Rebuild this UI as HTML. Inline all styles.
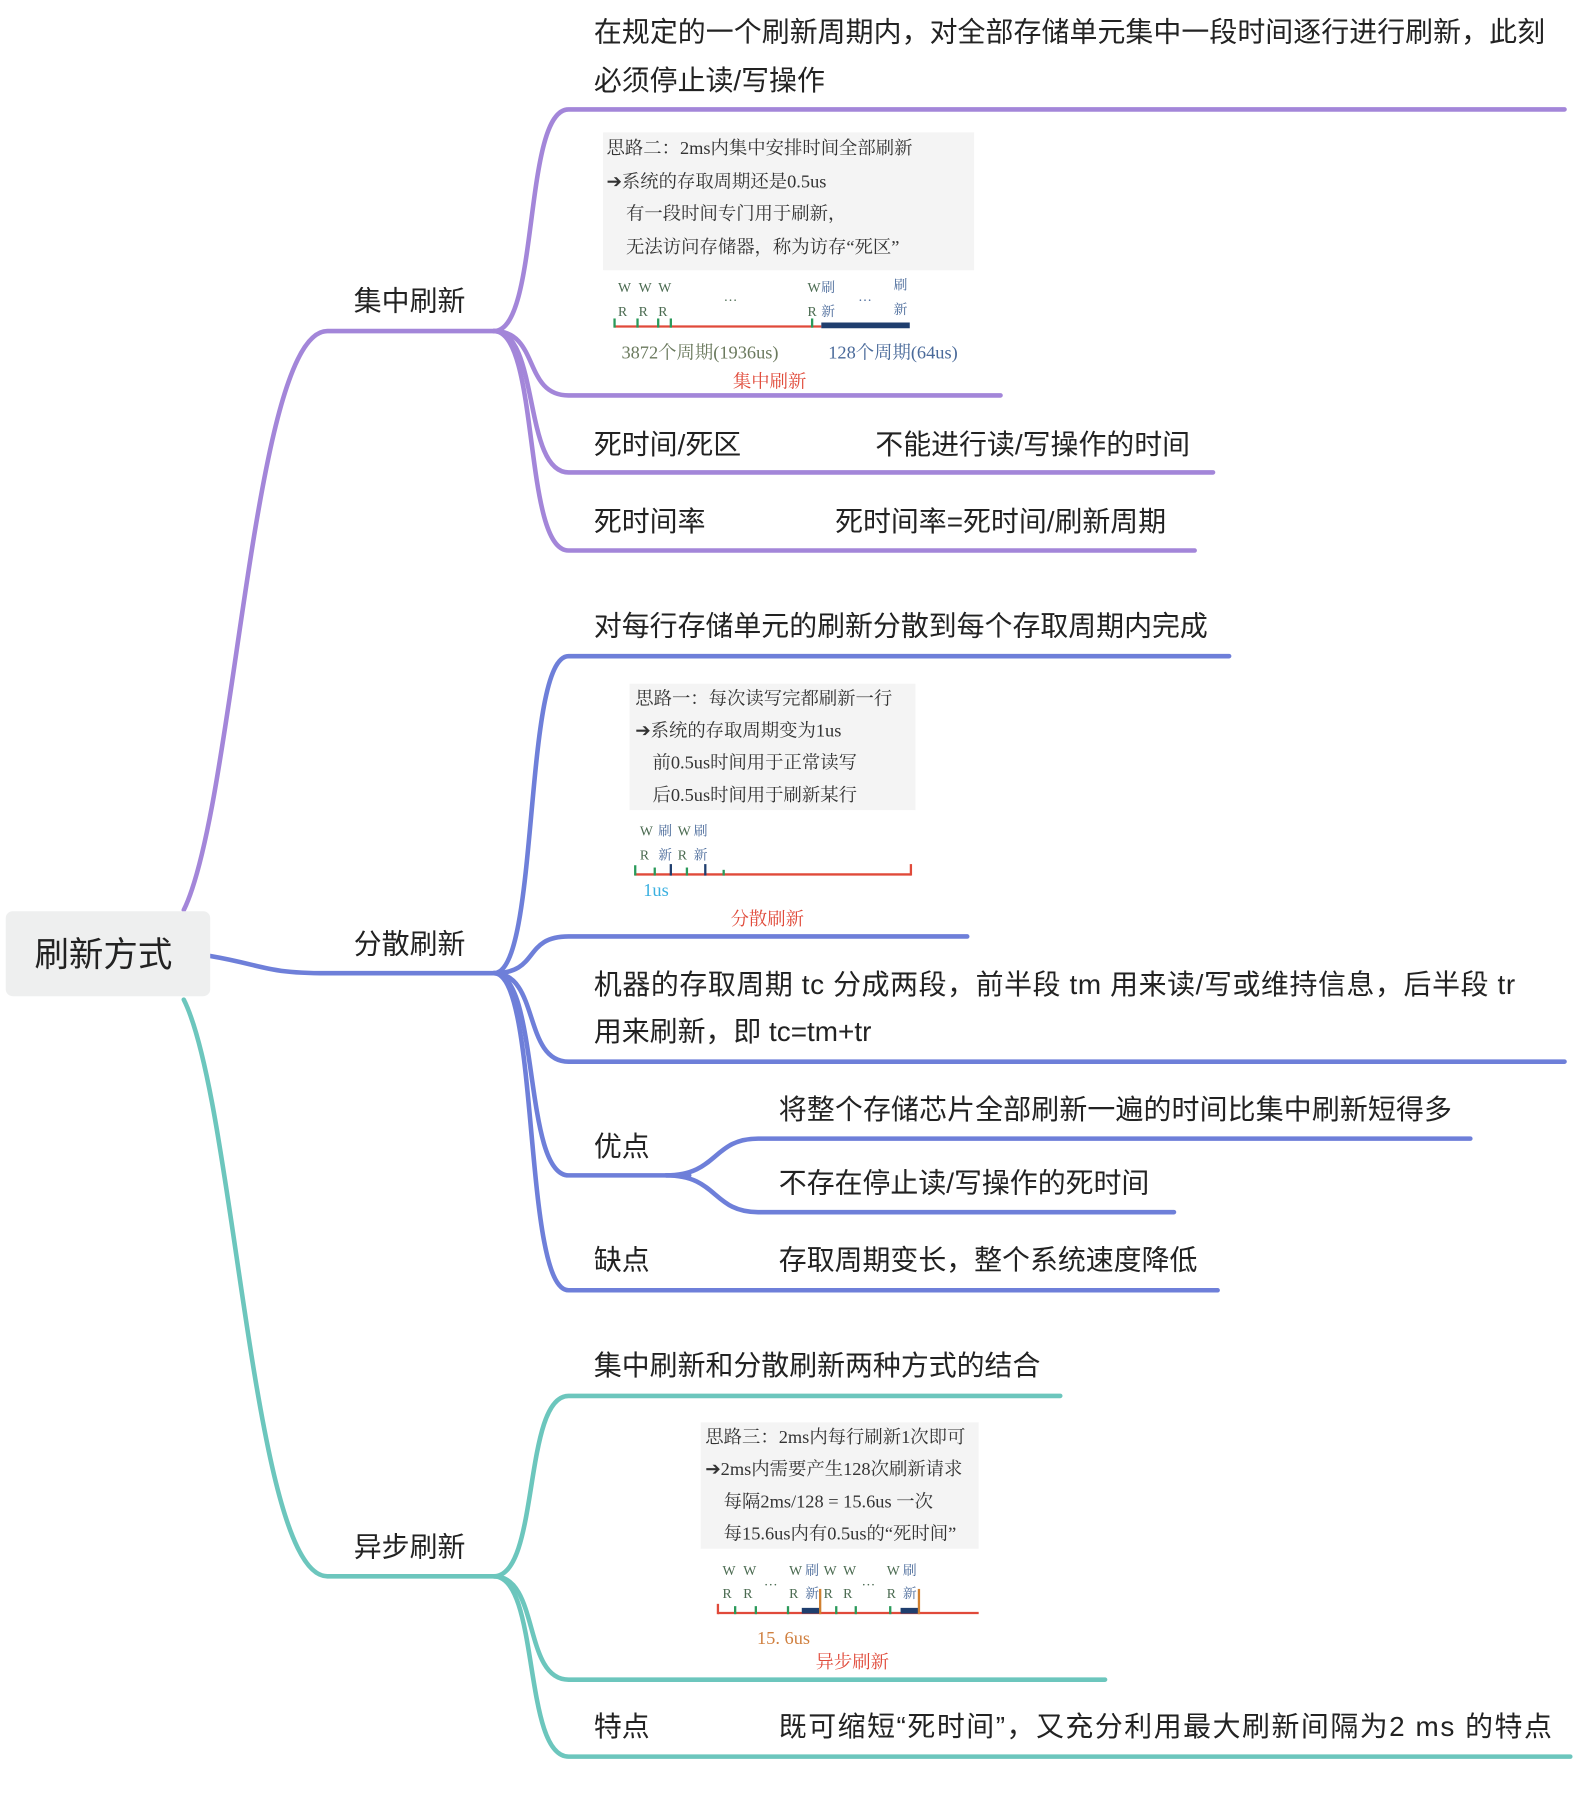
<!DOCTYPE html>
<html><head><meta charset="utf-8"><style>
html,body{margin:0;padding:0;background:#fff;}
svg{display:block;}
.t{font-family:"Liberation Sans","Noto Sans CJK SC",sans-serif;font-size:24.3px;fill:#222;}
.s{font-family:"Liberation Serif","Noto Serif CJK SC",serif;font-size:16px;fill:#333;}
.m{font-family:"Liberation Serif","Noto Serif CJK SC",serif;font-size:12px;}
</style></head><body>
<svg width="1576" height="1804" viewBox="0 0 1372 1570" xmlns="http://www.w3.org/2000/svg">
<g fill="none" stroke-width="4" stroke-linecap="round">
<g stroke="#a386d9">
<path d="M160,792 C205,700 220,288 285,288 L430,288"/>
<path d="M430,288 C470,288 455,95 495,95 L1362,95"/>
<path d="M430,288 C470,288 455,344 495,344 L871,344"/>
<path d="M430,288 C470,288 455,411 495,411 L1056,411"/>
<path d="M430,288 C470,288 455,479 495,479 L1040,479"/>
</g>
<g stroke="#6e7fd9">
<path d="M183,832 C230,840 230,847 285,847 L430,847"/>
<path d="M430,847 C470,847 455,571 495,571 L1070,571"/>
<path d="M430,847 C470,847 455,815 495,815 L842,815"/>
<path d="M430,847 C470,847 455,924 495,924 L1362,924"/>
<path d="M430,847 C470,847 455,1023 495,1023 L600,1023"/>
<path d="M430,847 C470,847 455,1123 495,1123 L1060,1123"/>
<path d="M580,1023 C625,1023 620,991 660,991 L1280,991"/>
<path d="M580,1023 C625,1023 620,1055 660,1055 L1022,1055"/>
</g>
<g stroke="#6cc6bd">
<path d="M160,870 C205,960 220,1372 285,1372 L430,1372"/>
<path d="M430,1372 C470,1372 455,1215 495,1215 L923,1215"/>
<path d="M430,1372 C470,1372 455,1462 495,1462 L962,1462"/>
<path d="M430,1372 C470,1372 455,1529 495,1529 L1367,1529"/>
</g>
</g>
<rect x="5" y="793" width="178" height="74" rx="6" fill="#eeefef"/>
<text x="30" y="841" class="t" style="font-size:30px">刷新方式</text>
<text x="308" y="270" class="t">集中刷新</text>
<text x="308" y="830" class="t">分散刷新</text>
<text x="308" y="1355" class="t">异步刷新</text>

<text x="517" y="36" class="t" textLength="828">在规定的一个刷新周期内，对全部存储单元集中一段时间逐行进行刷新，此刻</text>
<text x="517" y="78" class="t">必须停止读/写操作</text>
<text x="517" y="395" class="t">死时间/死区</text>
<text x="762" y="395" class="t">不能进行读/写操作的时间</text>
<text x="517" y="462" class="t">死时间率</text>
<text x="727" y="462" class="t">死时间率=死时间/刷新周期</text>

<text x="517" y="553" class="t">对每行存储单元的刷新分散到每个存取周期内完成</text>
<text x="517" y="865" class="t" textLength="802">机器的存取周期 tc 分成两段，前半段 tm 用来读/写或维持信息，后半段 tr</text>
<text x="517" y="906" class="t">用来刷新，即 tc=tm+tr</text>
<text x="517" y="1006" class="t">优点</text>
<text x="678" y="974" class="t" textLength="586">将整个存储芯片全部刷新一遍的时间比集中刷新短得多</text>
<text x="678" y="1038" class="t">不存在停止读/写操作的死时间</text>
<text x="517" y="1105" class="t">缺点</text>
<text x="678" y="1105" class="t">存取周期变长，整个系统速度降低</text>

<text x="517" y="1197" class="t">集中刷新和分散刷新两种方式的结合</text>
<text x="517" y="1511" class="t">特点</text>
<text x="678" y="1511" class="t" textLength="673">既可缩短“死时间”，又充分利用最大刷新间隔为2 ms 的特点</text>

<rect x="525" y="115" width="323" height="120" fill="#f4f4f4"/>
<text x="528" y="134" class="s">思路二：2ms内集中安排时间全部刷新</text>
<text x="528" y="163" class="s">➔系统的存取周期还是0.5us</text>
<text x="545" y="191" class="s">有一段时间专门用于刷新，</text>
<text x="545" y="220" class="s">无法访问存储器，称为访存“死区”</text>
<g class="m" fill="#4a6a50">
<text x="538" y="254">W</text><text x="556" y="254">W</text><text x="573" y="254">W</text><text x="703" y="254">W</text>
<text x="538" y="275">R</text><text x="556" y="275">R</text><text x="573" y="275">R</text><text x="703" y="275">R</text>
<text x="630" y="262">…</text>
</g>
<g class="m" fill="#4a6a9a"><text x="715" y="254">刷</text><text x="715" y="275">新</text><text x="778" y="252">刷</text><text x="778" y="273">新</text><text x="747" y="262">…</text></g>
<line x1="535" y1="284" x2="715" y2="284" stroke="#e04a3a" stroke-width="2"/>
<line x1="715" y1="283" x2="792" y2="283" stroke="#1f3e6e" stroke-width="5"/>
<g stroke="#2a9a5a" stroke-width="2"><line x1="535" y1="277" x2="535" y2="285"/><line x1="555" y1="277" x2="555" y2="285"/><line x1="573" y1="277" x2="573" y2="285"/><line x1="584" y1="277" x2="584" y2="285"/><line x1="707" y1="277" x2="707" y2="285"/></g>
<text x="541" y="312" class="s" style="fill:#6b7a5e">3872个周期(1936us)</text>
<text x="721" y="312" class="s" style="fill:#4a6a9a">128个周期(64us)</text>
<text x="638" y="337" class="s" style="fill:#e04a3a">集中刷新</text>

<rect x="548" y="595" width="249" height="110" fill="#f4f4f4"/>
<text x="553" y="613" class="s">思路一：每次读写完都刷新一行</text>
<text x="553" y="641" class="s">➔系统的存取周期变为1us</text>
<text x="568" y="669" class="s">前0.5us时间用于正常读写</text>
<text x="568" y="697" class="s">后0.5us时间用于刷新某行</text>
<g class="m" fill="#4a6a50"><text x="557" y="727">W</text><text x="590" y="727">W</text><text x="557" y="748">R</text><text x="590" y="748">R</text></g>
<g class="m" fill="#4a6a9a"><text x="573" y="727">刷</text><text x="604" y="727">刷</text><text x="573" y="748">新</text><text x="604" y="748">新</text></g>
<line x1="553" y1="761" x2="793" y2="761" stroke="#e04a3a" stroke-width="2"/>
<g stroke="#2a9a5a" stroke-width="2"><line x1="553" y1="753" x2="553" y2="762"/><line x1="570" y1="755" x2="570" y2="762"/><line x1="598" y1="755" x2="598" y2="762"/><line x1="630" y1="757" x2="630" y2="762"/></g>
<line x1="584" y1="752" x2="584" y2="762" stroke="#1f3e6e" stroke-width="2"/><line x1="614" y1="752" x2="614" y2="762" stroke="#1f3e6e" stroke-width="2"/>
<line x1="793" y1="752" x2="793" y2="762" stroke="#e04a3a" stroke-width="2"/>
<text x="560" y="780" class="s" style="fill:#3ab0e0">1us</text>
<text x="636" y="805" class="s" style="fill:#e04a3a">分散刷新</text>

<rect x="610" y="1238" width="242" height="110" fill="#f4f4f4"/>
<text x="614" y="1256" class="s">思路三：2ms内每行刷新1次即可</text>
<text x="614" y="1284" class="s">➔2ms内需要产生128次刷新请求</text>
<text x="630" y="1312" class="s">每隔2ms/128 = 15.6us 一次</text>
<text x="630" y="1340" class="s">每15.6us内有0.5us的“死时间”</text>
<g class="m" fill="#4a6a50">
<text x="629" y="1371">W</text><text x="647" y="1371">W</text><text x="687" y="1371">W</text><text x="717" y="1371">W</text><text x="734" y="1371">W</text><text x="772" y="1371">W</text>
<text x="629" y="1391">R</text><text x="647" y="1391">R</text><text x="687" y="1391">R</text><text x="717" y="1391">R</text><text x="734" y="1391">R</text><text x="772" y="1391">R</text>
<text x="665" y="1380">…</text><text x="750" y="1380">…</text></g>
<g class="m" fill="#4a6a9a"><text x="701" y="1371">刷</text><text x="701" y="1391">新</text><text x="786" y="1371">刷</text><text x="786" y="1391">新</text></g>
<line x1="625" y1="1404" x2="852" y2="1404" stroke="#e04a3a" stroke-width="2"/>
<line x1="698" y1="1402" x2="714" y2="1402" stroke="#1f3e6e" stroke-width="5"/>
<line x1="784" y1="1402" x2="800" y2="1402" stroke="#1f3e6e" stroke-width="5"/>
<line x1="714" y1="1383" x2="714" y2="1405" stroke="#d08030" stroke-width="2"/>
<line x1="800" y1="1383" x2="800" y2="1405" stroke="#d08030" stroke-width="2"/>
<g stroke="#2a9a5a" stroke-width="2"><line x1="640" y1="1398" x2="640" y2="1405"/><line x1="658" y1="1398" x2="658" y2="1405"/><line x1="686" y1="1398" x2="686" y2="1405"/><line x1="728" y1="1398" x2="728" y2="1405"/><line x1="745" y1="1398" x2="745" y2="1405"/><line x1="775" y1="1398" x2="775" y2="1405"/></g>
<line x1="625" y1="1396" x2="625" y2="1405" stroke="#e04a3a" stroke-width="2"/>
<text x="659" y="1431" class="s" style="fill:#d08040">15. 6us</text>
<text x="710" y="1452" class="s" style="fill:#e04a3a">异步刷新</text>
</svg>
</body></html>
